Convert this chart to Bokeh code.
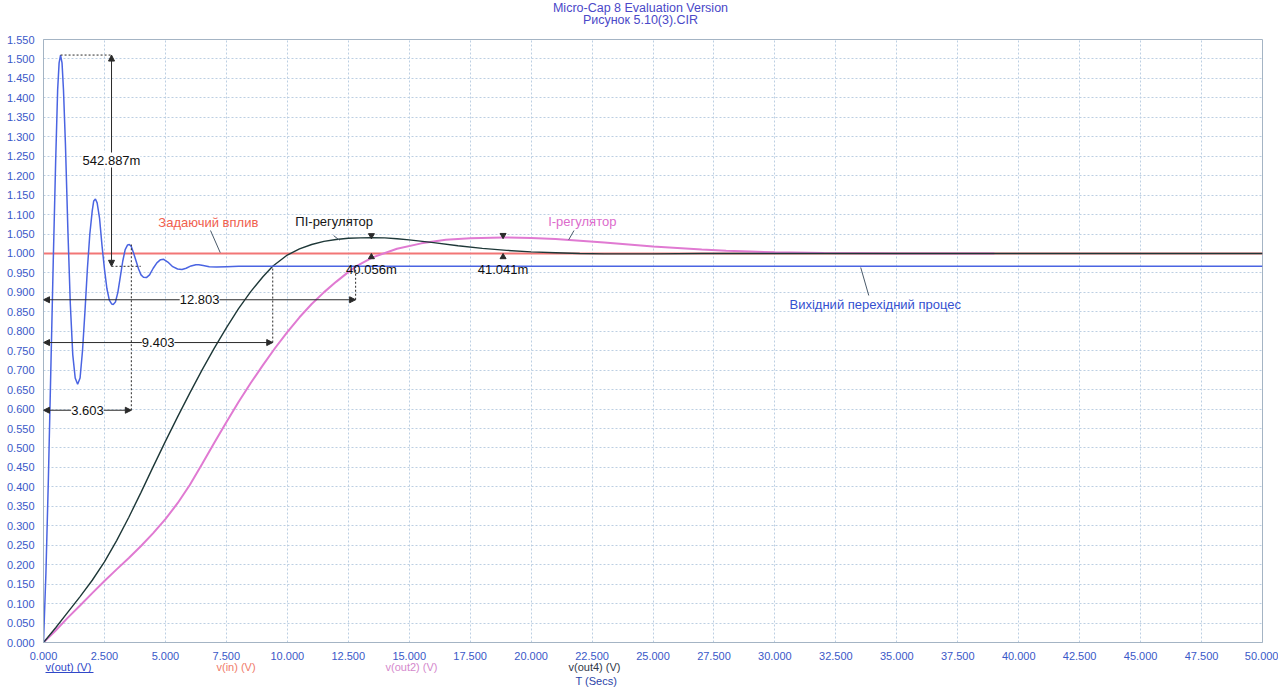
import numpy as np
from bokeh.plotting import figure
from bokeh.layouts import column
from bokeh.models import Range1d, FixedTicker, NumeralTickFormatter, Label, Arrow, NormalHead
from bokeh.core.properties import value
from bokeh.embed import file_html
from bokeh.resources import INLINE

FONT = "Liberation Sans"

# ---------------- data ----------------
x_ticks = [0.0, 2.5, 5.0, 7.5, 10.0, 12.5, 15.0, 17.5, 20.0, 22.5, 25.0, 27.5, 30.0,
           32.5, 35.0, 37.5, 40.0, 42.5, 45.0, 47.5, 50.0]
y_ticks = [0.0, 0.05, 0.10, 0.15, 0.20, 0.25, 0.30, 0.35, 0.40, 0.45, 0.50, 0.55, 0.60,
           0.65, 0.70, 0.75, 0.80, 0.85, 0.90, 0.95, 1.00, 1.05, 1.10, 1.15, 1.20, 1.25,
           1.30, 1.35, 1.40, 1.45, 1.50, 1.55]

# v(in) - setpoint
t_in = [0.0, 50.0]
v_in = [1.0, 1.0]

# v(out) - output transient (blue)
t_out = [0.00, 0.10, 0.20, 0.30, 0.40, 0.50, 0.58, 0.64, 0.70, 0.76, 0.82, 0.90, 1.00,
         1.10, 1.20, 1.30, 1.40, 1.50, 1.60, 1.70, 1.80, 1.90, 2.00, 2.06, 2.13, 2.20,
         2.30, 2.40, 2.50, 2.60, 2.70, 2.80, 2.86, 2.95, 3.05, 3.15, 3.25, 3.35, 3.45,
         3.52, 3.60, 3.70, 3.80, 3.90, 4.00, 4.10, 4.22, 4.35, 4.50, 4.65, 4.80, 4.93,
         5.10, 5.30, 5.50, 5.68, 5.85, 6.05, 6.25, 6.37, 6.55, 6.80, 7.10, 7.50, 8.00,
         9.00, 50.0]
v_out = [0.000, 0.180, 0.420, 0.700, 0.980, 1.240, 1.420, 1.490, 1.510, 1.490, 1.420,
         1.280, 1.060, 0.870, 0.740, 0.680, 0.664, 0.680, 0.750, 0.850, 0.960, 1.050,
         1.110, 1.135, 1.140, 1.130, 1.090, 1.020, 0.960, 0.910, 0.880, 0.870, 0.869,
         0.875, 0.900, 0.940, 0.980, 1.010, 1.022, 1.023, 1.018, 1.000, 0.980, 0.960,
         0.945, 0.939, 0.938, 0.945, 0.962, 0.976, 0.984, 0.985, 0.978, 0.966, 0.960,
         0.959, 0.962, 0.968, 0.971, 0.971, 0.969, 0.966, 0.965, 0.966, 0.967, 0.967,
         0.967]

# v(out4) - PI controller (dark)
t_pi = [0.0, 0.5, 1.0, 1.5, 2.0, 2.5, 3.0, 3.5, 4.0, 4.5, 5.0, 5.5, 6.0, 6.5, 7.0, 7.5,
        8.0, 8.5, 9.0, 9.4, 10.0, 10.5, 11.0, 11.5, 12.0, 12.5, 13.0, 13.45, 14.0, 14.5,
        15.0, 16.0, 17.0, 18.0, 19.0, 20.0, 21.0, 22.0, 23.0, 25.0, 27.0, 50.0]
v_pi = [0.000, 0.038, 0.078, 0.118, 0.160, 0.207, 0.262, 0.322, 0.386, 0.452, 0.517,
        0.580, 0.641, 0.700, 0.756, 0.809, 0.858, 0.902, 0.940, 0.967, 0.996, 1.012,
        1.023, 1.031, 1.036, 1.039, 1.040, 1.0405, 1.040, 1.038, 1.035, 1.028, 1.020,
        1.013, 1.008, 1.004, 1.002, 1.000, 0.999, 0.999, 1.000, 1.000]

# v(out2) - I controller (pink)
t_i = [0.0, 0.5, 1.0, 1.5, 2.0, 2.5, 3.0, 3.5, 4.0, 4.5, 5.0, 5.5, 6.0, 6.5, 7.0, 7.5,
       8.0, 8.5, 9.0, 9.5, 10.0, 10.5, 11.0, 11.5, 12.0, 12.5, 12.8, 13.5, 14.5, 15.5,
       16.5, 17.5, 18.85, 20.0, 21.0, 22.0, 23.0, 24.0, 25.0, 26.0, 27.0, 28.0, 29.0,
       30.0, 32.0, 35.0, 39.0]
v_i = [0.000, 0.031, 0.064, 0.095, 0.127, 0.158, 0.188, 0.217, 0.248, 0.281, 0.317,
       0.358, 0.405, 0.458, 0.513, 0.566, 0.618, 0.667, 0.713, 0.757, 0.798, 0.836,
       0.870, 0.900, 0.927, 0.952, 0.966, 0.990, 1.012, 1.026, 1.035, 1.039, 1.041,
       1.040, 1.037, 1.033, 1.028, 1.023, 1.018, 1.014, 1.010, 1.007, 1.005, 1.003,
       1.001, 1.000, 1.000]

# cursor measurements shown on the chart
overshoot_text = "542.887m"
measure_times = [3.603, 9.403, 12.803]
measure_levels = [0.597, 0.771, 0.881]
measure_targets = [1.023, 0.967, 0.967]
peak_texts = ["40.056m", "41.041m"]

title_lines = ["Micro-Cap 8 Evaluation Version", "Рисунок 5.10(3).CIR"]
wave_names = ["v(out) (V)", "v(in) (V)", "v(out2) (V)", "v(out4) (V)"]
wave_colors = ["#3048c8", "#f07a6a", "#d488cc", "#303848"]
x_axis_name = "T (Secs)"

# ---------------- title strip (x in canvas pixels, aligned with the main frame) ----------------
p0 = figure(width=1278, height=32, output_backend="svg", toolbar_location=None,
            x_range=Range1d(43, 1262), y_range=Range1d(32, 0),
            x_axis_type=None, y_axis_type=None, min_border=0)
p0.outline_line_color = None
p0.grid.visible = False
p0.text(x=[640, 640], y=[7, 19], text=title_lines, text_align="center",
        text_baseline="middle", text_font=value(FONT), text_font_size="12.5px",
        text_color="#4a48c8")

# ---------------- main figure ----------------
p = figure(width=1278, height=630, output_backend="svg", toolbar_location=None,
           x_range=Range1d(0, 50), y_range=Range1d(0, 1.55),
           min_border_left=43, min_border_right=16, min_border_top=7, min_border_bottom=18)
p.background_fill_color = "white"
p.border_fill_color = "white"
p.outline_line_color = "#a4b4c4"
p.outline_line_width = 1

for ax in (p.xaxis[0], p.yaxis[0]):
    ax.major_tick_line_color = None
    ax.minor_tick_line_color = None
    ax.axis_line_color = "#a4b4c4"
    ax.major_label_text_font = FONT
    ax.major_label_text_font_size = "11px"
    ax.major_label_text_color = "#3a58c8"
    ax.major_label_standoff = 3
    ax.formatter = NumeralTickFormatter(format="0.000")
p.xaxis.ticker = FixedTicker(ticks=x_ticks)
p.yaxis.ticker = FixedTicker(ticks=y_ticks)

p.xgrid.ticker = FixedTicker(ticks=x_ticks)
p.ygrid.ticker = FixedTicker(ticks=y_ticks)
for g in (p.xgrid[0], p.ygrid[0]):
    g.grid_line_color = "#bccfe2"
    g.grid_line_dash = "2 2"
    g.grid_line_width = 1

# ---------------- curves ----------------
p.line(t_in, v_in, line_color="#f27676", line_width=2)
p.line(t_i, v_i, line_color="#e07ad2", line_width=2)
p.line(t_pi, v_pi, line_color="#1e3838", line_width=1.4)
p.line(t_out, v_out, line_color="#4a64e2", line_width=1.5)

ANN = "#2a2a2a"
NUM = dict(text_font=FONT, text_font_size="13px", text_color="#111111",
           text_align="center", text_baseline="middle")

# overshoot measurement on v(out)
ipk = int(np.argmax(v_out))
t_pk, v_pk = t_out[ipk], v_out[ipk]
v_set = v_out[-1]
t_meas = 2.79
p.line([t_pk, t_meas], [v_pk, v_pk], line_color=ANN, line_dash="2 2", line_width=1)
p.line([t_meas, t_meas + 1.2], [v_set, v_set], line_color=ANN, line_dash="2 2", line_width=1)
p.add_layout(Arrow(x_start=t_meas, y_start=v_set, x_end=t_meas, y_end=v_pk,
                   start=NormalHead(size=6, fill_color=ANN, line_color=ANN),
                   end=NormalHead(size=6, fill_color=ANN, line_color=ANN),
                   line_color=ANN, line_width=1))
p.add_layout(Label(x=t_meas, y=1.24, text=overshoot_text, background_fill_color="white", **NUM))

# horizontal time measurements
for tm, lv, tg in zip(measure_times, measure_levels, measure_targets):
    p.add_layout(Arrow(x_start=0, y_start=lv, x_end=tm, y_end=lv,
                       start=NormalHead(size=6, fill_color=ANN, line_color=ANN),
                       end=NormalHead(size=6, fill_color=ANN, line_color=ANN),
                       line_color=ANN, line_width=1))
    p.line([tm, tm], [lv, tg], line_color=ANN, line_dash="2 2", line_width=1)
    p.add_layout(Label(x=tm / 2, y=lv, text=f"{tm:.3f}", background_fill_color="white", **NUM))

# peak overshoot markers for PI and I controllers
for tt, vv, txt in ((t_pi, v_pi, peak_texts[0]), (t_i, v_i, peak_texts[1])):
    k = int(np.argmax(vv))
    p.scatter([tt[k]], [vv[k] + 0.006], marker="inverted_triangle", size=6, color=ANN)
    p.scatter([tt[k]], [0.991], marker="triangle", size=6, color=ANN)
    p.add_layout(Label(x=tt[k], y=0.958, text=txt, **NUM))

# curve name labels with pointers
def tag(x, y, text, color, px, py):
    p.add_layout(Label(x=x, y=y, text=text, text_align="left", text_baseline="middle",
                       text_font=FONT, text_font_size="13px", text_color=color))
    p.line(px, py, line_color="#4a5a6a", line_width=1)

tag(4.71, 1.079, "Задаючий вплив", "#f0604e", [6.85, 7.25], [1.059, 1.002])
tag(10.33, 1.082, "ПІ-регулятор", "#151515", [11.9, 12.14], [1.046, 1.034])
tag(20.7, 1.082, "I-регулятор", "#dc6ccc", [21.76, 21.54], [1.059, 1.035])
tag(30.6, 0.869, "Вихідний перехідний процес", "#3450d0", [33.52, 33.85], [0.964, 0.892])

# ---------------- waveform names strip ----------------
p2 = figure(width=1278, height=26, output_backend="svg", toolbar_location=None,
            x_range=Range1d(43, 1262), y_range=Range1d(26, 0),
            x_axis_type=None, y_axis_type=None, min_border=0)
p2.outline_line_color = None
p2.grid.visible = False
p2.text(x=[45, 216, 385, 568], y=[4, 4, 4, 4], text=wave_names, text_color=wave_colors,
        text_align="left", text_baseline="middle", text_font=value(FONT),
        text_font_size="11px")
p2.line([45, 93], [10, 10], line_color=wave_colors[0], line_width=1)
p2.text(x=[575], y=[18], text=[x_axis_name], text_color="#2c44a8", text_align="left",
        text_baseline="middle", text_font=value(FONT), text_font_size="11px")

layout = column(p0, p, p2, spacing=0)
open("out.html", "w").write(file_html(layout, INLINE))
